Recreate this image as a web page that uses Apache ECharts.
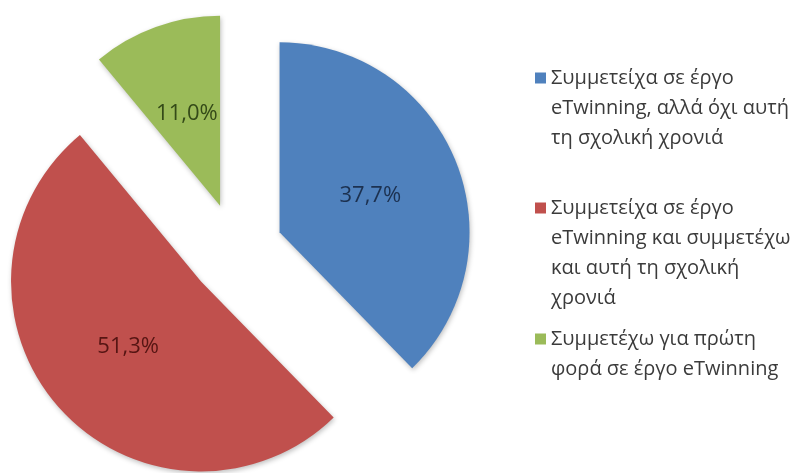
<!DOCTYPE html>
<html>
<head>
<meta charset="utf-8">
<script src="https://cdn.jsdelivr.net/npm/echarts@6/dist/echarts.min.js"></script>
<style>
  html, body { margin: 0; padding: 0; background: #fff; }
  #chart { width: 811px; height: 473px; }
</style>
</head>
<body>
<div id="chart"></div>
<script>
// pie data
const categories = [
  'Συμμετείχα σε έργο eTwinning, αλλά όχι αυτή τη σχολική χρονιά',
  'Συμμετείχα σε έργο eTwinning και συμμετέχω και αυτή τη σχολική χρονιά',
  'Συμμετέχω για πρώτη φορά σε έργο eTwinning'
]
const legendLines = [
  ['Συμμετείχα σε έργο', 'eTwinning, αλλά όχι αυτή', 'τη σχολική χρονιά'],
  ['Συμμετείχα σε έργο', 'eTwinning και συμμετέχω', 'και αυτή τη σχολική', 'χρονιά'],
  ['Συμμετέχω για πρώτη', 'φορά σε έργο eTwinning']
]
const values = [37.7, 51.3, 11.0]

const colors = ['#4f81bd', '#c0504d', '#9bbb59']
const labelColors = ['#1c3150', '#561513', '#344a18']
const legendIconY = [73, 203, 334]
const lineH = 30

const font = "'Open Sans', 'Noto Sans', sans-serif"

const chart = echarts.init(document.getElementById('chart'))

// one legend per entry so each gets its own slot like the original.
// blank lines on top keep the marker level with the first text line
const legends = categories.map((name, i) => {
  const n = legendLines[i].length
  return {
    orient: 'vertical',
    left: 530,
    top: legendIconY[i] - (2 * n - 1) * lineH / 2,
    itemWidth: 11,
    itemHeight: 11,
    icon: 'rect',
    selectedMode: false,
    data: [name],
    formatter: () => '\n'.repeat(n - 1) + legendLines[i].join('\n'),
    textStyle: {
      fontFamily: font,
      fontSize: 20,
      color: '#3b3b3b',
      lineHeight: lineH
    }
  }
})

chart.setOption({
  backgroundColor: '#fff',
  animation: false,
  color: colors,
  legend: legends,
  series: [{
    type: 'pie',
    center: [236, 250],
    radius: 190,
    startAngle: 90,
    clockwise: true,
    selectedMode: 'multiple',
    selectedOffset: 47,
    avoidLabelOverlap: false,
    itemStyle: {
      shadowBlur: 5,
      shadowOffsetX: 1,
      shadowOffsetY: 2,
      shadowColor: 'rgba(0,0,0,0.25)'
    },
    select: {
      itemStyle: {
        shadowBlur: 5,
        shadowOffsetX: 1,
        shadowOffsetY: 2,
        shadowColor: 'rgba(0,0,0,0.25)'
      }
    },
    emphasis: { disabled: true },
    label: {
      show: true,
      position: 'inner',
      fontFamily: font,
      fontSize: 22,
      formatter: p => p.value.toFixed(1).replace('.', ',') + '%'
    },
    labelLine: { show: false },
    data: categories.map((name, i) => ({
      name: name,
      value: values[i],
      selected: true,
      label: { color: labelColors[i] },
      select: { label: { color: labelColors[i] }, itemStyle: { color: colors[i] } }
    }))
  }]
})
</script>
</body>
</html>
